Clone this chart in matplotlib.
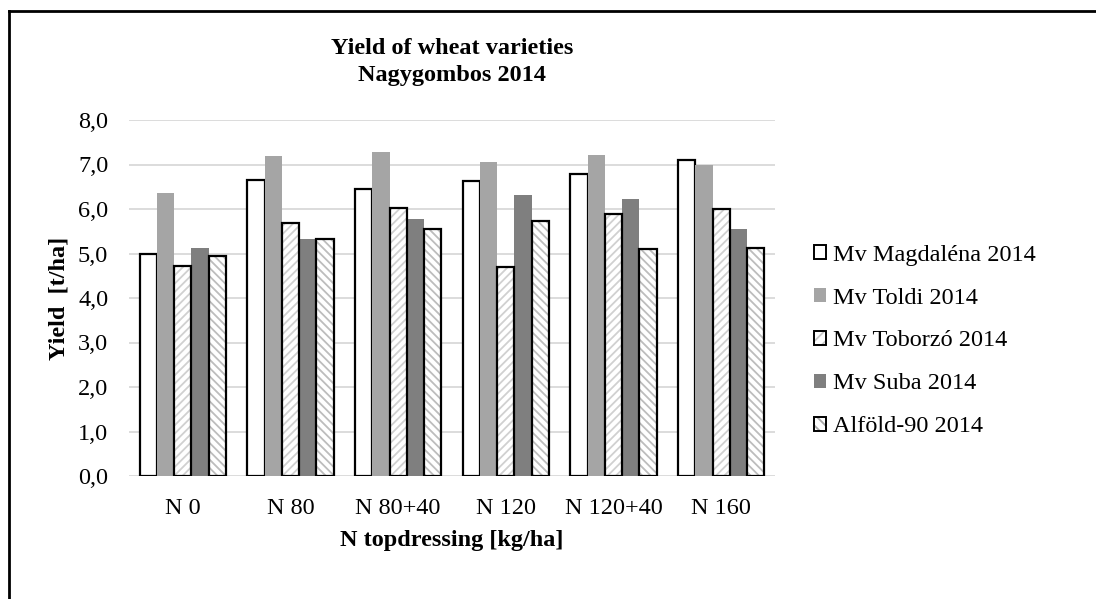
import numpy as np
import matplotlib
matplotlib.use("Agg")
import matplotlib.pyplot as plt
from matplotlib.patches import Patch
from matplotlib.lines import Line2D

plt.rcParams['font.family'] = ['Liberation Serif', 'DejaVu Serif']

categories = ["N 0", "N 80", "N 80+40", "N 120", "N 120+40", "N 160"]
series_names = ["Mv Magdaléna 2014", "Mv Toldi 2014", "Mv Toborzó 2014",
                "Mv Suba 2014", "Alföld-90 2014"]
magdalena = [5.00, 6.66, 6.46, 6.63, 6.79, 7.09]
toldi     = [6.35, 7.18, 7.28, 7.05, 7.22, 6.99]
toborzo   = [4.73, 5.69, 6.02, 4.69, 5.89, 5.99]
suba      = [5.12, 5.33, 5.78, 6.31, 6.22, 5.55]
alfold    = [4.95, 5.33, 5.55, 5.73, 5.09, 5.12]
yticks = [0, 1, 2, 3, 4, 5, 6, 7, 8]

FS = 17.5
fig = plt.figure(figsize=(10.96, 5.99), dpi=100)
ax = fig.add_axes([129/1096, 1-476/599, (775-129)/1096, (476-120)/599])

x = np.arange(len(categories))
w = 0.16
ecol = "black"
elw = 1.6

plt.rcParams['hatch.linewidth'] = 1.3

# white, outlined
ax.bar(x - 2*w, magdalena, w, color="white", edgecolor=ecol, lw=elw, zorder=3)
# light gray solid
ax.bar(x - w, toldi, w, color="#A5A5A5", lw=0, zorder=3)
# light upward hatch
ax.bar(x, toborzo, w, color="white", edgecolor="#D0D0D0", hatch="////", lw=0, zorder=3)
ax.bar(x, toborzo, w, fill=False, edgecolor=ecol, lw=elw, zorder=4)
# dark gray solid
ax.bar(x + w, suba, w, color="#7F7F7F", lw=0, zorder=3)
# downward hatch, darker
ax.bar(x + 2*w, alfold, w, color="white", edgecolor="#BDBDBD", hatch="\\\\\\\\", lw=0, zorder=3)
ax.bar(x + 2*w, alfold, w, fill=False, edgecolor=ecol, lw=elw, zorder=4)

ax.set_xlim(-0.5, len(categories) - 0.5)
ax.set_ylim(0, 8)
ax.set_yticks(yticks)
ax.set_yticklabels([f"{v:.1f}".replace(".", ",") for v in yticks])
ax.set_xticks(x)
ax.set_xticklabels(categories)
ax.tick_params(axis="both", length=0, labelsize=FS)
ax.tick_params(axis="y", pad=15)
ax.tick_params(axis="x", pad=16)
ax.grid(axis="y", color="#D9D9D9", lw=1.3, zorder=0)
ax.set_axisbelow(True)
for s in ax.spines.values():
    s.set_visible(False)

ax.set_ylabel("Yield  [t/ha]", fontsize=FS, fontweight="bold", labelpad=6)
ax.set_xlabel("N topdressing [kg/ha]", fontsize=FS, fontweight="bold", labelpad=8)

fig.text(452/1096, 1-48/599, "Yield of wheat varieties", ha="center", va="center",
         fontsize=FS, fontweight="bold")
fig.text(452/1096, 1-76/599, "Nagygombos 2014", ha="center", va="center",
         fontsize=FS, fontweight="bold")

outline = Patch(facecolor="none", edgecolor="black", lw=1.4)
handles = [
    Patch(facecolor="white", edgecolor="black", lw=1.4),
    Patch(facecolor="#A5A5A5", lw=0),
    (Patch(facecolor="white", edgecolor="#C8C8C8", lw=0, hatch="///"), outline),
    Patch(facecolor="#7F7F7F", lw=0),
    (Patch(facecolor="white", edgecolor="#A8A8A8", lw=0, hatch="\\\\\\"), outline),
]
fig.legend(handles, series_names, loc="center left",
           bbox_to_anchor=(814/1096, 1-341/599), frameon=False, fontsize=FS,
           handlelength=0.5, handleheight=0.5, handletextpad=0.3,
           labelspacing=0.9, borderpad=0, borderaxespad=0)

# chart frame (only top and left edges visible in crop)
fig.add_artist(Line2D([9/1096, 1.0], [1-11/599, 1-11/599], transform=fig.transFigure,
                      color="black", lw=2))
fig.add_artist(Line2D([9/1096, 9/1096], [0.0, 1-11/599], transform=fig.transFigure,
                      color="black", lw=2))

fig.savefig("out.png", dpi=100)
